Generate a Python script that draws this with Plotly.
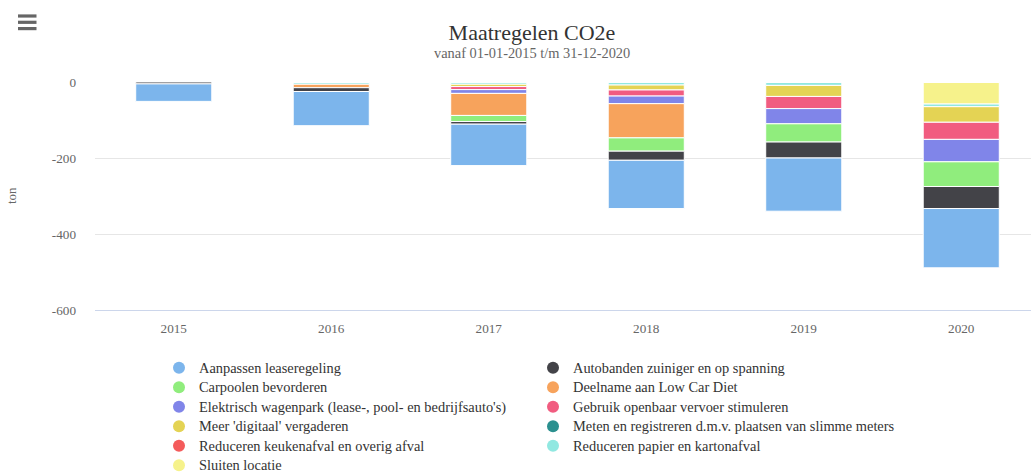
import plotly.graph_objects as go

# ---------------- data ----------------
years = ["2015", "2016", "2017", "2018", "2019", "2020"]

series_names = [
    "Aanpassen leaseregeling",
    "Autobanden zuiniger en op spanning",
    "Carpoolen bevorderen",
    "Deelname aan Low Car Diet",
    "Elektrisch wagenpark (lease-, pool- en bedrijfsauto's)",
    "Gebruik openbaar vervoer stimuleren",
    "Meer 'digitaal' vergaderen",
    "Meten en registreren d.m.v. plaatsen van slimme meters",
    "Reduceren keukenafval en overig afval",
    "Reduceren papier en kartonafval",
    "Sluiten locatie",
]

aanpassen   = [-46, -90, -109, -127, -140, -156]
autobanden  = [-5, -10, -7, -24, -42, -58]
carpoolen   = [0, 0, -16, -35, -48, -65]
deelname    = [0, -9, -58, -90, 0, 0]
elektrisch  = [0, 0, -10, -20, -40, -59]
gebruik_ov  = [0, 0, -8, -16, -32, -45]
digitaal    = [0, 0, -6, -13, -29, -41]
meten       = [0, 0, 0, 0, 0, 0]
keukenafval = [0, 0, 0, 0, 0, 0]
papier      = [0, -6, -6, -8, -9, -7]
sluiten     = [0, 0, 0, 0, 0, -58]

series_values = [aanpassen, autobanden, carpoolen, deelname, elektrisch,
                 gebruik_ov, digitaal, meten, keukenafval, papier, sluiten]

colors = ["#7cb5ec", "#434348", "#90ed7d", "#f7a35c", "#8085e9", "#f15c80",
          "#e4d354", "#2b908f", "#f45b5b", "#91e8e1", "#f6f28b"]

title_text = "Maatregelen CO2e"
subtitle_text = "vanaf 01-01-2015 t/m 31-12-2020"
y_title = "ton"
y_ticks = [0, -200, -400, -600]
y_tick_labels = ["0", "-200", "-400", "-600"]

# ---------------- layout constants ----------------
W, H = 1031, 472
ML, MR, MT, MB = 95, 0, 82, 162
PW, PH = W - ML - MR, H - MT - MB
FONT = "Liberation Serif"


def px(xp):
    return (xp - ML) / PW


def py(yp):
    return (H - MB - yp) / PH


fig = go.Figure()

# bars: last series closest to zero (Highcharts stacking order)
for name, vals, col in reversed(list(zip(series_names, series_values, colors))):
    fig.add_trace(go.Bar(
        x=years, y=vals, name=name, showlegend=False,
        marker=dict(color=col, line=dict(color="#ffffff", width=1)),
    ))

# legend entries with round markers
for i, (name, col) in enumerate(zip(series_names, colors)):
    fig.add_trace(go.Scatter(
        x=[None], y=[None], mode="markers",
        name="<span style='font-size:14.4px'>" + name + "</span>",
        marker=dict(color=col, size=12, symbol="circle"),
        legendrank=i + 1,
    ))

shapes = []
for yy in (16, 22.3, 28.6):
    shapes.append(dict(type="line", xref="paper", yref="paper",
                       x0=px(18), x1=px(36.5), y0=py(yy), y1=py(yy),
                       line=dict(color="#666666", width=3.2)))

fig.update_layout(
    width=W, height=H,
    margin=dict(l=ML, r=MR, t=MT, b=MB, autoexpand=False),
    paper_bgcolor="#ffffff", plot_bgcolor="#ffffff",
    font=dict(family=FONT, color="#333333"),
    barmode="relative", bargap=0.517,
    title=dict(text=title_text, xref="container", x=532 / W, xanchor="center",
               yref="container", y=1 - 32 / H, yanchor="middle",
               font=dict(family=FONT, size=22, color="#333333")),
    xaxis=dict(range=[-0.5, -0.5 + PW / 157.5], showgrid=False, zeroline=False,
               showline=True, linecolor="#ccd6eb", linewidth=1,
               tickfont=dict(family=FONT, size=13.2, color="#666666"),
               ticklabelstandoff=6, ticks="", fixedrange=True, automargin=False),
    yaxis=dict(range=[-600, 0], tickvals=y_ticks, ticktext=y_tick_labels,
               showgrid=True, gridcolor="#e6e6e6", gridwidth=1, zeroline=False,
               tickfont=dict(family=FONT, size=13.2, color="#666666"),
               ticklabelstandoff=18, fixedrange=True, automargin=False),
    legend=dict(orientation="h", x=px(159), xanchor="left", y=py(353), yanchor="top",
                entrywidth=329, entrywidthmode="pixels",
                font=dict(family=FONT, size=12.7, color="#333333"),
                bgcolor="rgba(0,0,0,0)", itemclick=False),
    annotations=[
        dict(text=subtitle_text, xref="paper", yref="paper", x=px(532), y=py(52.5),
             xanchor="center", yanchor="middle", showarrow=False,
             font=dict(family=FONT, size=14.4, color="#666666")),
        dict(text=y_title, xref="paper", yref="paper", x=px(11), y=0.5,
             xanchor="center", yanchor="middle", textangle=-90, showarrow=False,
             font=dict(family=FONT, size=13, color="#666666")),
    ],
    shapes=shapes,
    showlegend=True,
)

fig.write_html("out.html", config={"displayModeBar": False},
               post_script="document.body.style.margin='0px';")
